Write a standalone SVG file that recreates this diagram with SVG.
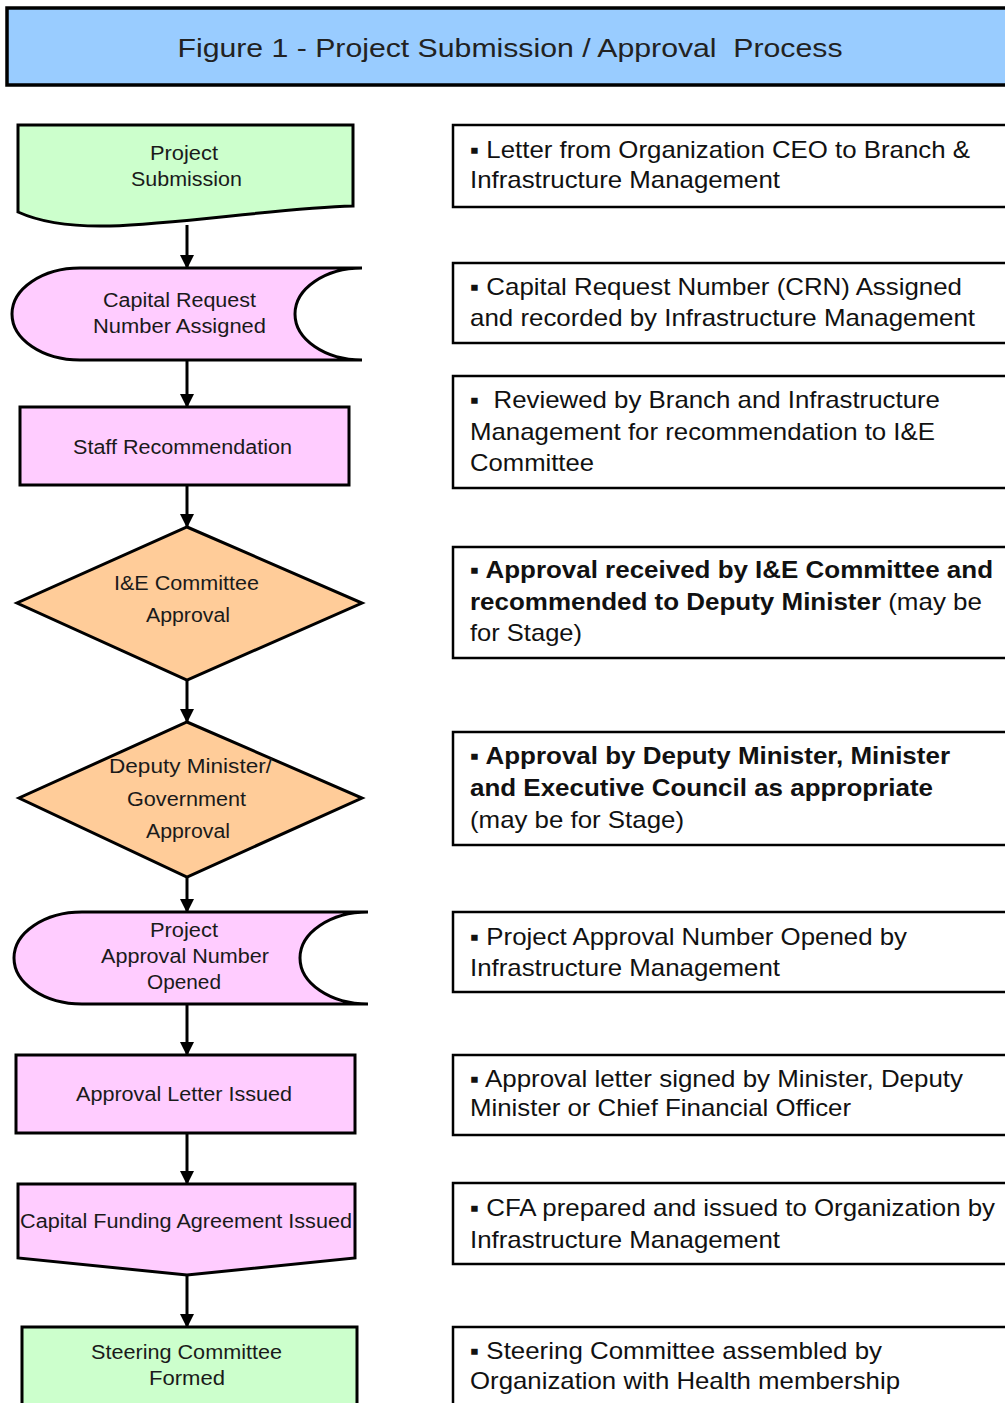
<svg xmlns="http://www.w3.org/2000/svg" width="1005" height="1403" viewBox="0 0 1005 1403">
<style>
  .node { stroke: #000; stroke-width: 3; stroke-linejoin: miter; }
  .green { fill: #ccffcc; }
  .pink { fill: #ffccff; }
  .orange { fill: #ffcc99; }
  .lt { font-family: "Liberation Sans", Arial, sans-serif; font-size: 20px; fill: #1a1a1a; text-anchor: middle; }
  .rt { font-family: "Liberation Sans", Arial, sans-serif; font-size: 24px; fill: #111; }
  .b { font-weight: bold; }
  .note { fill: #fff; stroke: #000; stroke-width: 2.5; }
  .conn { stroke: #000; stroke-width: 3; fill: none; }
</style>
<defs>
  <marker id="arr" markerUnits="userSpaceOnUse" markerWidth="14" markerHeight="16" refX="13" refY="7" orient="auto">
    <path d="M0,0 L14,7 L0,14 Z" fill="#000"/>
  </marker>
</defs>
<rect width="1005" height="1403" fill="#fff"/>

<g id="title">
  <rect x="7" y="8" width="1010" height="77" fill="#99ccff" stroke="#000" stroke-width="3.5"/>
  <text x="510" y="57" xml:space="preserve" font-family="'Liberation Sans', Arial, sans-serif" font-size="26" fill="#222" text-anchor="middle" textLength="665" lengthAdjust="spacingAndGlyphs">Figure 1 - Project Submission / Approval  Process</text>
</g>

<g id="connectors">
  <line class="conn" x1="187" y1="225" x2="187" y2="268" marker-end="url(#arr)"/>
  <line class="conn" x1="187" y1="360" x2="187" y2="407" marker-end="url(#arr)"/>
  <line class="conn" x1="187" y1="485" x2="187" y2="527" marker-end="url(#arr)"/>
  <line class="conn" x1="187" y1="680" x2="187" y2="722" marker-end="url(#arr)"/>
  <line class="conn" x1="187" y1="877" x2="187" y2="912" marker-end="url(#arr)"/>
  <line class="conn" x1="187" y1="1004" x2="187" y2="1055" marker-end="url(#arr)"/>
  <line class="conn" x1="187" y1="1133" x2="187" y2="1184" marker-end="url(#arr)"/>
  <line class="conn" x1="187" y1="1275" x2="187" y2="1327" marker-end="url(#arr)"/>
</g>

<g id="n1">
  <path class="node green" d="M18,125 H353 V206 C280,208 180,224 110,226 C70,227 40,222 18,212 Z"/>
  <text class="lt" x="184" y="160" textLength="68" lengthAdjust="spacingAndGlyphs">Project</text>
  <text class="lt" x="186.5" y="186" textLength="111" lengthAdjust="spacingAndGlyphs">Submission</text>
</g>

<g id="n2">
  <path class="node pink" d="M80,268 H362 A67,46 0 0 0 362,360 H80 A68,46 0 0 1 80,268 Z"/>
  <text class="lt" x="179.5" y="307" textLength="153" lengthAdjust="spacingAndGlyphs">Capital Request</text>
  <text class="lt" x="179.5" y="333" textLength="173" lengthAdjust="spacingAndGlyphs">Number Assigned</text>
</g>

<g id="n3">
  <rect class="node pink" x="20" y="407" width="329" height="78"/>
  <text class="lt" x="182.5" y="454" textLength="219" lengthAdjust="spacingAndGlyphs">Staff Recommendation</text>
</g>

<g id="n4">
  <polygon class="node orange" points="187,527 362,603 187,680 17,603"/>
  <text class="lt" x="186.5" y="590" textLength="145" lengthAdjust="spacingAndGlyphs">I&amp;E Committee</text>
  <text class="lt" x="188" y="622" textLength="84" lengthAdjust="spacingAndGlyphs">Approval</text>
</g>

<g id="n5">
  <polygon class="node orange" points="187,722 362,798 187,877 19,798"/>
  <text class="lt" x="190.5" y="773" textLength="163" lengthAdjust="spacingAndGlyphs">Deputy Minister/</text>
  <text class="lt" x="186.5" y="806" textLength="119" lengthAdjust="spacingAndGlyphs">Government</text>
  <text class="lt" x="188" y="838" textLength="84" lengthAdjust="spacingAndGlyphs">Approval</text>
</g>

<g id="n6">
  <path class="node pink" d="M82,912 H368 A68,46 0 0 0 368,1004 H82 A68,46 0 0 1 82,912 Z"/>
  <text class="lt" x="184" y="937" textLength="68" lengthAdjust="spacingAndGlyphs">Project</text>
  <text class="lt" x="185" y="963" textLength="168" lengthAdjust="spacingAndGlyphs">Approval Number</text>
  <text class="lt" x="184" y="989" textLength="74" lengthAdjust="spacingAndGlyphs">Opened</text>
</g>

<g id="n7">
  <rect class="node pink" x="16" y="1055" width="339" height="78"/>
  <text class="lt" x="184" y="1101" textLength="216" lengthAdjust="spacingAndGlyphs">Approval Letter Issued</text>
</g>

<g id="n8">
  <path class="node pink" d="M18,1184 H355 V1258 L187,1275 L18,1258 Z"/>
  <text class="lt" x="186" y="1228" textLength="332" lengthAdjust="spacingAndGlyphs">Capital Funding Agreement Issued</text>
</g>

<g id="n9">
  <rect class="node green" x="22" y="1327" width="335" height="90"/>
  <text class="lt" x="186.5" y="1359" textLength="191" lengthAdjust="spacingAndGlyphs">Steering Committee</text>
  <text class="lt" x="187" y="1385" textLength="76" lengthAdjust="spacingAndGlyphs">Formed</text>
</g>

<g id="d1">
  <rect class="note" x="453" y="125" width="570" height="82"/>
  <text class="rt" x="470" y="158" textLength="500" lengthAdjust="spacingAndGlyphs">▪ Letter from Organization CEO to Branch &amp;</text>
  <text class="rt" x="470" y="188" textLength="310" lengthAdjust="spacingAndGlyphs">Infrastructure Management</text>
</g>
<g id="d2">
  <rect class="note" x="453" y="263" width="570" height="80"/>
  <text class="rt" x="470" y="295" textLength="492" lengthAdjust="spacingAndGlyphs">▪ Capital Request Number (CRN) Assigned</text>
  <text class="rt" x="470" y="326" textLength="505" lengthAdjust="spacingAndGlyphs">and recorded by Infrastructure Management</text>
</g>
<g id="d3">
  <rect class="note" x="453" y="376" width="570" height="112"/>
  <text class="rt" x="470" y="408" xml:space="preserve" textLength="470" lengthAdjust="spacingAndGlyphs">▪  Reviewed by Branch and Infrastructure</text>
  <text class="rt" x="470" y="440" textLength="465" lengthAdjust="spacingAndGlyphs">Management for recommendation to I&amp;E</text>
  <text class="rt" x="470" y="471" textLength="124" lengthAdjust="spacingAndGlyphs">Committee</text>
</g>
<g id="d4">
  <rect class="note" x="453" y="547" width="570" height="111"/>
  <text class="rt b" x="470" y="578" textLength="523" lengthAdjust="spacingAndGlyphs">▪ Approval received by I&amp;E Committee and</text>
  <text class="rt" x="470" y="610" textLength="512" lengthAdjust="spacingAndGlyphs"><tspan class="b">recommended to Deputy Minister</tspan> (may be</text>
  <text class="rt" x="470" y="641" textLength="112" lengthAdjust="spacingAndGlyphs">for Stage)</text>
</g>
<g id="d5">
  <rect class="note" x="453" y="732" width="570" height="113"/>
  <text class="rt b" x="470" y="764" textLength="480" lengthAdjust="spacingAndGlyphs">▪ Approval by Deputy Minister, Minister</text>
  <text class="rt b" x="470" y="796" textLength="463" lengthAdjust="spacingAndGlyphs">and Executive Council as appropriate</text>
  <text class="rt" x="470" y="828" textLength="214" lengthAdjust="spacingAndGlyphs">(may be for Stage)</text>
</g>
<g id="d6">
  <rect class="note" x="453" y="912" width="570" height="80"/>
  <text class="rt" x="470" y="945" textLength="437" lengthAdjust="spacingAndGlyphs">▪ Project Approval Number Opened by</text>
  <text class="rt" x="470" y="976" textLength="310" lengthAdjust="spacingAndGlyphs">Infrastructure Management</text>
</g>
<g id="d7">
  <rect class="note" x="453" y="1055" width="570" height="80"/>
  <text class="rt" x="470" y="1087" textLength="493" lengthAdjust="spacingAndGlyphs">▪ Approval letter signed by Minister, Deputy</text>
  <text class="rt" x="470" y="1116" textLength="381" lengthAdjust="spacingAndGlyphs">Minister or Chief Financial Officer</text>
</g>
<g id="d8">
  <rect class="note" x="453" y="1183" width="570" height="81"/>
  <text class="rt" x="470" y="1216" textLength="525" lengthAdjust="spacingAndGlyphs">▪ CFA prepared and issued to Organization by</text>
  <text class="rt" x="470" y="1248" textLength="310" lengthAdjust="spacingAndGlyphs">Infrastructure Management</text>
</g>
<g id="d9">
  <rect class="note" x="453" y="1327" width="570" height="90"/>
  <text class="rt" x="470" y="1359" textLength="412" lengthAdjust="spacingAndGlyphs">▪ Steering Committee assembled by</text>
  <text class="rt" x="470" y="1389" textLength="430" lengthAdjust="spacingAndGlyphs">Organization with Health membership</text>
</g>
</svg>
